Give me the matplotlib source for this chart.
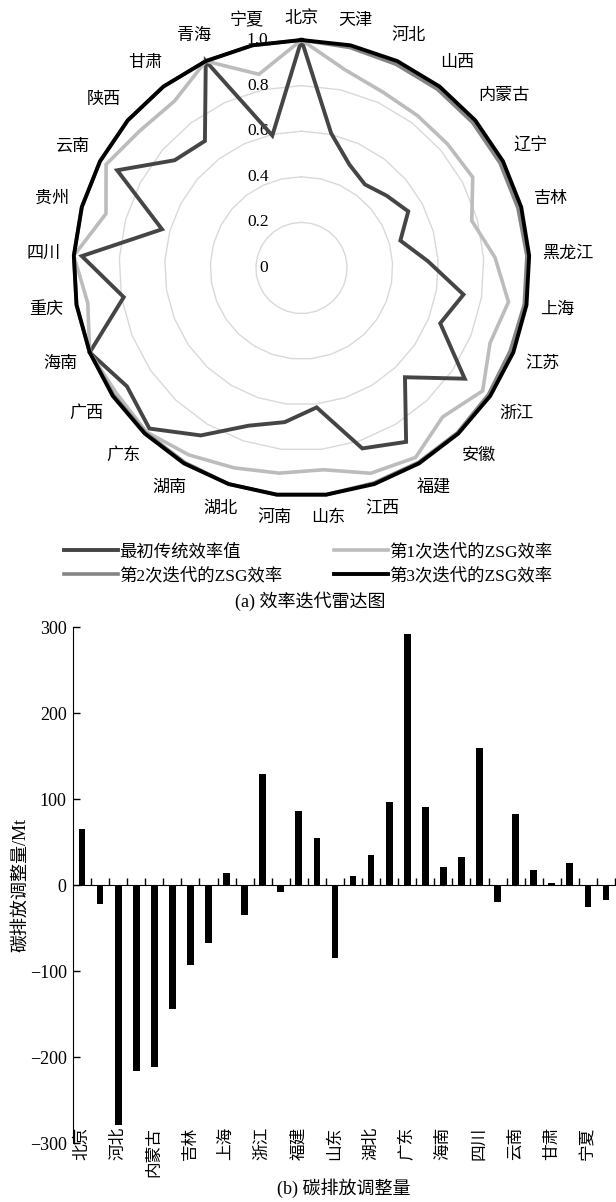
import numpy as np
import matplotlib
matplotlib.use('Agg')
import matplotlib.pyplot as plt

plt.rcParams['font.family'] = ['Liberation Serif', 'Noto Sans CJK SC']
plt.rcParams['axes.unicode_minus'] = True

# ---------------- data ----------------
provinces = ['北京', '天津', '河北', '山西', '内蒙古', '辽宁', '吉林', '黑龙江', '上海', '江苏',
             '浙江', '安徽', '福建', '江西', '山东', '河南', '湖北', '湖南', '广东', '广西',
             '海南', '重庆', '四川', '贵州', '云南', '陕西', '甘肃', '青海', '宁夏']
eff_initial = [1.0, 0.605, 0.50, 0.46, 0.49, 0.53, 0.45, 0.555, 0.72, 0.655,
               0.865, 0.66, 0.89, 0.835, 0.615, 0.68, 0.73, 0.857, 0.97, 0.925,
               1.0, 0.79, 0.965, 0.635, 0.915, 0.73, 0.70, 1.0, 0.595]
eff_iter1 = [1.0, 0.89, 0.85, 0.84, 0.84, 0.85, 0.775, 0.85, 0.92, 0.89,
             0.96, 0.90, 0.97, 0.95, 0.89, 0.905, 0.925, 0.957, 0.99, 0.98,
             1.0, 0.95, 1.0, 0.89, 0.97, 0.93, 0.92, 1.0, 0.87]
eff_iter2 = [1.0, 0.99, 0.985, 0.985, 0.985, 0.985, 0.985, 0.99, 0.99, 0.985,
             0.99, 0.995, 0.995, 0.995, 1.0, 1.0, 1.0, 0.995, 0.995, 0.995,
             1.0, 1.0, 1.0, 1.0, 1.0, 1.0, 1.0, 1.0, 1.0]
eff_iter3 = [1.0] * 29
ring_values = [0.2, 0.4, 0.6, 0.8, 1.0]
ring_label_values = [0, 0.2, 0.4, 0.6, 0.8, 1.0]
ring_labels = ['0', '0.2', '0.4', '0.6', '0.8', '1.0']
series_names = ['最初传统效率值', '第1次迭代的ZSG效率', '第2次迭代的ZSG效率', '第3次迭代的ZSG效率']

bar_provinces = provinces + ['新疆']
carbon_adjust = [65, -22, -279, -216, -212, -144, -93, -67, 14, -35,
                 129, -8, 86, 55, -85, 10, 35, 96, 292, 91,
                 21, 33, 159, -20, 82, 18, 2, 26, -26, -17]
y_ticks = [-300, -200, -100, 0, 100, 200, 300]

# ---------------- figure ----------------
W, H = 616, 1202
fig = plt.figure(figsize=(W / 100, H / 100), dpi=100)

# ----- radar -----
cx, cy, R = 301.5, 268, 228
axr = fig.add_axes([(cx - R) / W, 1 - (cy + R) / H, 2 * R / W, 2 * R / H], projection='polar')
axr.set_theta_zero_location('N')
axr.set_theta_direction(-1)
axr.set_ylim(0, 1)
axr.grid(False)
axr.set_xticks([])
axr.set_yticks([])
axr.spines['polar'].set_visible(False)
axr.patch.set_visible(False)

n = len(provinces)
ang = np.arange(n) * 2 * np.pi / n
ang_c = np.append(ang, ang[0])

for rv in ring_values:
    axr.plot(ang_c, [rv] * (n + 1), color='#d9d9d9', lw=1.0, zorder=1, clip_on=False)

def closed(v):
    return list(v) + [v[0]]

styles = [('#454545', 2.8), ('#bcbcbc', 2.6), ('#858585', 2.6), ('#000000', 2.8)]
lines = []
for vals, (col, lw), name in zip([eff_initial, eff_iter1, eff_iter2, eff_iter3], styles, series_names):
    ln, = axr.plot(ang_c, closed(vals), color=col, lw=lw, label=name, zorder=3,
                   clip_on=False, solid_joinstyle='miter')
    lines.append(ln)

px2pt = 0.72
for rv, lab in zip(ring_label_values, ring_labels):
    axr.annotate(lab, xy=(0, rv), xytext=(-33 * px2pt, 0), textcoords='offset points',
                 ha='right', va='center', fontsize=12.5, zorder=2)

em = 16.7
gap = 13
for i, name in enumerate(provinces):
    th = ang[i]
    s, c = np.sin(th), np.cos(th)
    w = len(name) * em
    d = gap + abs(s) * w / 2 + abs(c) * em / 2
    axr.annotate(name, xy=(th, 1.0), xytext=(d * s * px2pt, d * c * px2pt),
                 textcoords='offset points', ha='center', va='center', fontsize=12.3)

leg = fig.legend(handles=[lines[0], lines[2], lines[1], lines[3]],
                 labels=[series_names[0], series_names[2], series_names[1], series_names[3]],
                 ncol=2, loc='upper left', bbox_to_anchor=(64 / W, 1 - 543 / H),
                 frameon=False, fontsize=12.5, handlelength=3.1, handletextpad=0.05,
                 columnspacing=3.0, labelspacing=0.43, borderpad=0, borderaxespad=0)

fig.text(310 / W, 1 - 601 / H, '(a) 效率迭代雷达图', ha='center', va='center', fontsize=13)

# ----- bar chart -----
L, Rr, T, B = 73, 615, 627, 1143
axb = fig.add_axes([L / W, 1 - B / H, (Rr - L) / W, (B - T) / H])
x = np.arange(len(bar_provinces))
axb.bar(x, carbon_adjust, width=0.37, color='black')
axb.set_xlim(-0.5, len(bar_provinces) - 0.5)
axb.set_ylim(-300, 300)
axb.set_yticks(y_ticks)
axb.tick_params(axis='y', direction='in', length=5, width=1, labelsize=13, pad=4.5)
axb.spines['top'].set_visible(False)
axb.spines['right'].set_visible(False)
axb.spines['bottom'].set_position(('data', 0))
axb.set_xticks(np.arange(0.5, len(bar_provinces), 1))
axb.tick_params(axis='x', direction='in', length=5, width=1, labelbottom=False)

sec = axb.secondary_xaxis(0.0)
sec.spines['bottom'].set_visible(False)
sec.set_xticks(x[::2], [bar_provinces[i] for i in x[::2]])
sec.tick_params(axis='x', length=0, pad=-11.5, labelsize=12, labelrotation=90)

axb.set_ylabel('碳排放调整量/Mt', fontsize=13)
axb.yaxis.set_label_coords(-0.08, 0.5)

fig.text(344 / W, 1 - 1188 / H, '(b) 碳排放调整量', ha='center', va='center', fontsize=13)

fig.savefig('out.png', dpi=100)
